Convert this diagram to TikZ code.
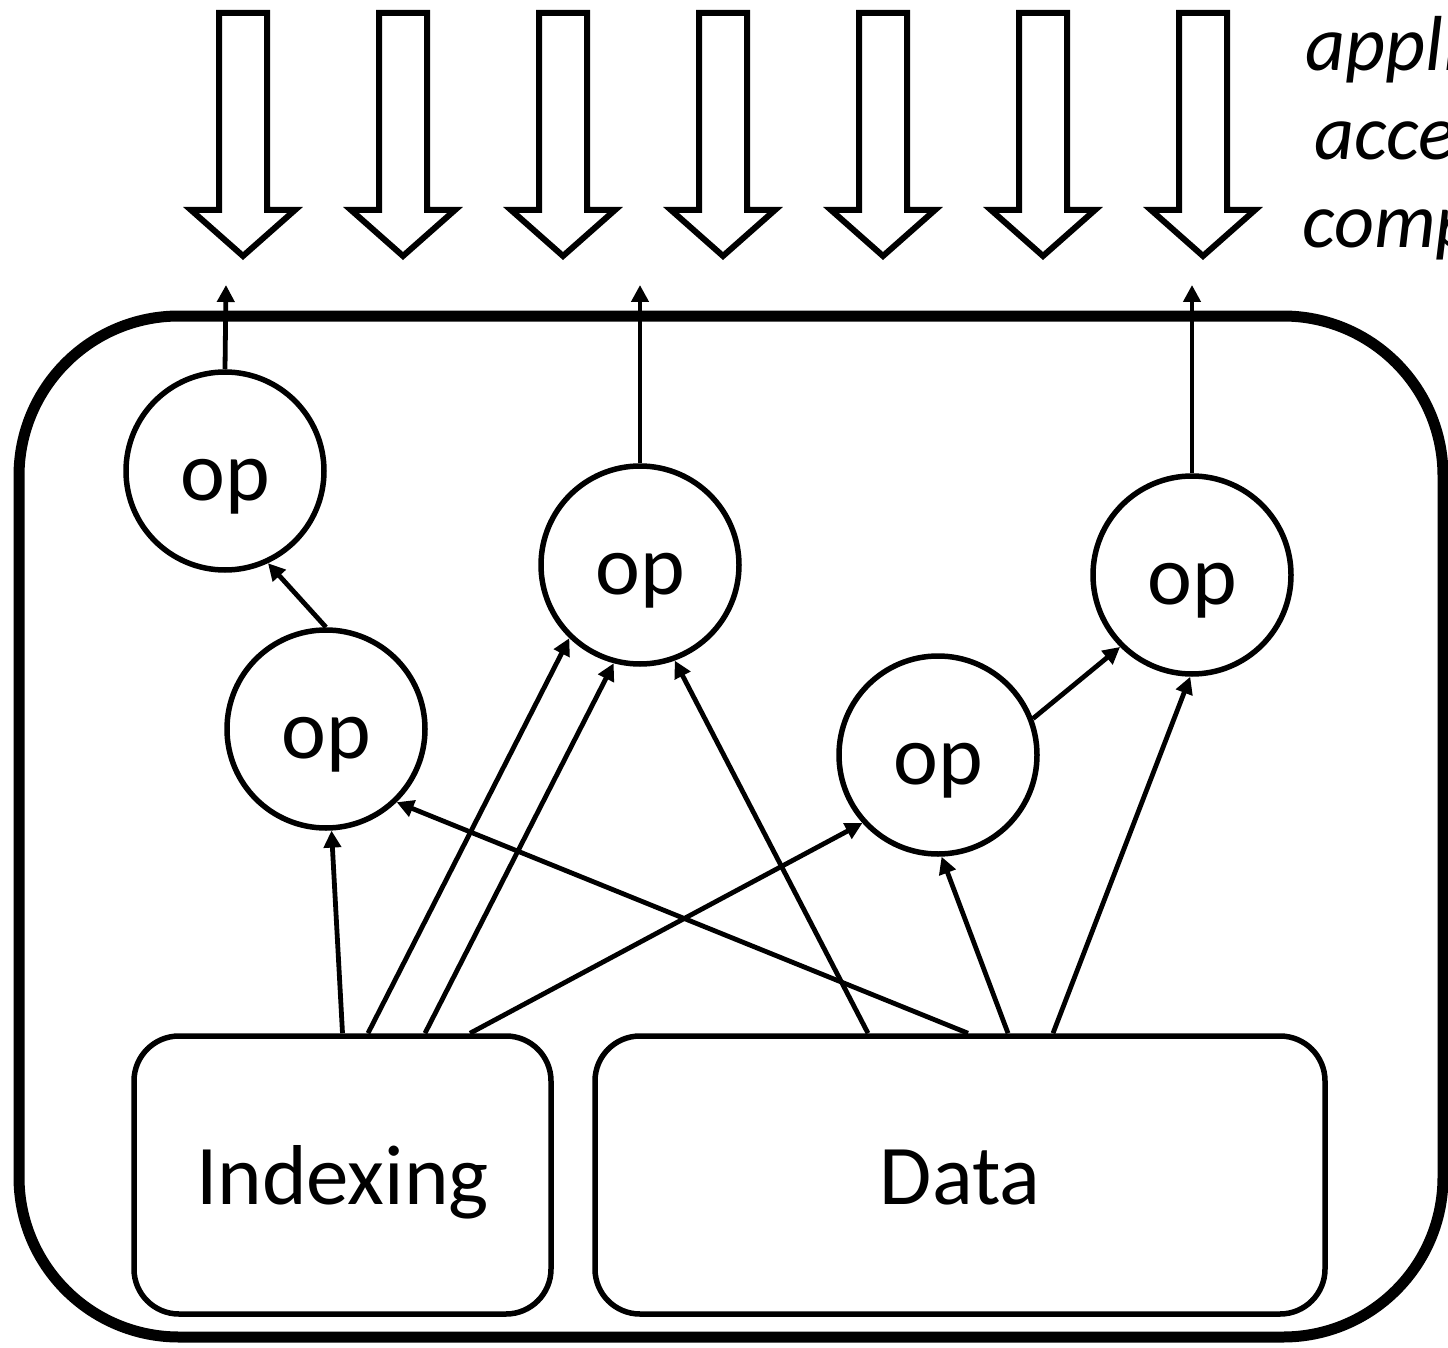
\documentclass[tikz,border=0pt]{standalone}
\usepackage{fontspec}
\setmainfont{Carlito}
\usetikzlibrary{arrows.meta,calc}
\newcommand{\mystrut}{\rule[-0.269em]{0pt}{1.221em}}
\begin{document}
\begin{tikzpicture}[x=1pt,y=-1pt,
  conn/.style={line width=4.8pt,-{Triangle[length=17pt,width=17pt]}},
  opnode/.style={circle,draw,line width=5.5pt,minimum size=198pt,inner sep=0pt,font=\fontsize{85}{100}\selectfont},
  store/.style={rectangle,draw,line width=5.5pt,rounded corners=45pt,minimum height=278pt,inner sep=0pt,font=\fontsize{85}{100}\selectfont},
  bigarrow/.style={draw,line width=6pt,miter limit=10,line join=miter,fill=white},
  frame/.style={draw,line width=11pt,rounded corners=160pt},
  side/.style={anchor=base west,inner sep=0pt,font=\fontsize{78}{90}\selectfont\itshape}]
\useasboundingbox (0,0) rectangle (1448,1348);
\clip (0,0) rectangle (1448,1348);

% block arrows
\foreach \cx in {243,403,563,723,883,1043,1203}{
  \path[bigarrow] (\cx-24,13) -- (\cx+24,13) -- (\cx+24,210) -- (\cx+52,210)
    -- (\cx,256) -- (\cx-52,210) -- (\cx-24,210) -- cycle;
}

% side text (cut by the page edge, as in the reference)
\node[side] (s1) at (1305,71) {appli};
\node[side] (s2) at (1314,160) {acce};
\node[side] (s3) at (1302,248) {comp};

% frame
\path[frame] (19,316) rectangle (1443,1337);

% op nodes
\node[opnode] (op1) at (225,471) {\mystrut op};
\node[opnode] (op2) at (326,729) {\mystrut op};
\node[opnode] (op3) at (640,565) {\mystrut op};
\node[opnode] (op4) at (938,755) {\mystrut op};
\node[opnode] (op5) at (1192,575) {\mystrut op};

% stores
\node[store,minimum width=417pt] (idx) at (342.5,1175) {\mystrut Indexing};
\node[store,minimum width=730pt] (dat) at (960,1175) {\mystrut Data};

% outputs
\coordinate (t1) at (226,285);
\coordinate (t3) at (640,285);
\coordinate (t5) at (1192,285);
\draw[conn] (op1.north) -- (t1);
\draw[conn] (op3.north) -- (t3);
\draw[conn] (op5.north) -- (t5);

% connectors
\draw[conn] (idx.north) -- (op2);
\draw[conn] ([xshift=25.5pt]idx.north) -- (op3.226);
\draw[conn] ([xshift=82.5pt]idx.north) -- (op3.255);
\draw[conn] ([xshift=127.5pt]idx.north) -- (op4.222);
\draw[conn] ([xshift=-92pt]dat.north) -- (op3.290);
\draw[conn] ([xshift=8pt]dat.north) -- (op2.314);
\draw[conn] ([xshift=48pt]dat.north) -- (op4.272);
\draw[conn] ([xshift=93pt]dat.north) -- (op5.269);
\draw[conn] (op4.21) -- (op5.225);
\draw[conn] (op2.north) -- (op1.295);
\end{tikzpicture}
\end{document}
